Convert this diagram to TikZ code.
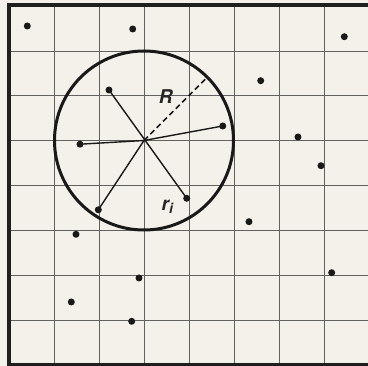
\documentclass[tikz,border=0pt]{standalone}
\usepackage{fontspec}
\setmainfont{TeX Gyre Heros}
\begin{document}
\begin{tikzpicture}[x=1pt,y=-1pt,
  gridline/.style={draw=black!62,line width=1pt},
  frame/.style={draw=black!88,line width=3.2pt},
  spoke/.style={draw=black!90,line width=1.4pt},
  dot/.style={circle,fill=black!90,inner sep=0pt,minimum size=7pt},
  lbl/.style={font=\fontsize{19}{22}\selectfont\bfseries\itshape,text=black!85,inner sep=0pt}]
\definecolor{paper}{HTML}{F3F1EA}
\useasboundingbox[fill=paper] (0,0) rectangle (368,366);
% grid
\foreach \k in {1,...,7} {
  \draw[gridline] ({9+45.1*\k},5) -- ({9+45.1*\k},364.5);
  \draw[gridline] (9,{6.2+44.85*\k}) -- (368,{6.2+44.85*\k});
}
% frame
\draw[frame] (368,5) -- (9,5) -- (9,364.5) -- (368,364.5);
% circle
\coordinate (c) at (144,140.5);
\draw[draw=black!90,line width=3pt] (c) circle[radius=89.5];
% dots
\node[dot] (p1) at (27.3,26) {};
\node[dot] (p2) at (132.7,29) {};
\node[dot] (a) at (109,90) {};
\node[dot] (b) at (80,144.2) {};
\node[dot] (p3) at (344.3,36.7) {};
\node[dot] (p4) at (260.7,80.7) {};
\node[dot] (d) at (222.8,126) {};
\node[dot] (p5) at (298,137) {};
\node[dot] (p6) at (321,165.7) {};
\node[dot] (e) at (98.3,209.8) {};
\node[dot] (p7) at (76,234.3) {};
\node[dot] (p8) at (139,278) {};
\node[dot] (p9) at (71.3,302) {};
\node[dot] (p10) at (131.7,321.3) {};
\node[dot] (f) at (186.7,198.3) {};
\node[dot] (p11) at (249,221.7) {};
\node[dot] (p12) at (331.7,272.7) {};
% spokes
\draw[spoke] (a.center) -- (f.center);
\draw[spoke] (b.center) -- (c) -- (d.center);
\draw[spoke] (e.center) -- (c);
\draw[spoke,line width=1.7pt,dash pattern=on 5.5pt off 3.5pt] (c) -- ++(-45:88) coordinate (rend);
% labels
\node[lbl] (R) at (165.8,96.5) {R};
\node[lbl,anchor=base west] (ri) at (161.5,210.5) {r\raisebox{-3.5pt}{\fontsize{14}{16}\selectfont\bfseries\itshape i}};
\end{tikzpicture}
\end{document}
